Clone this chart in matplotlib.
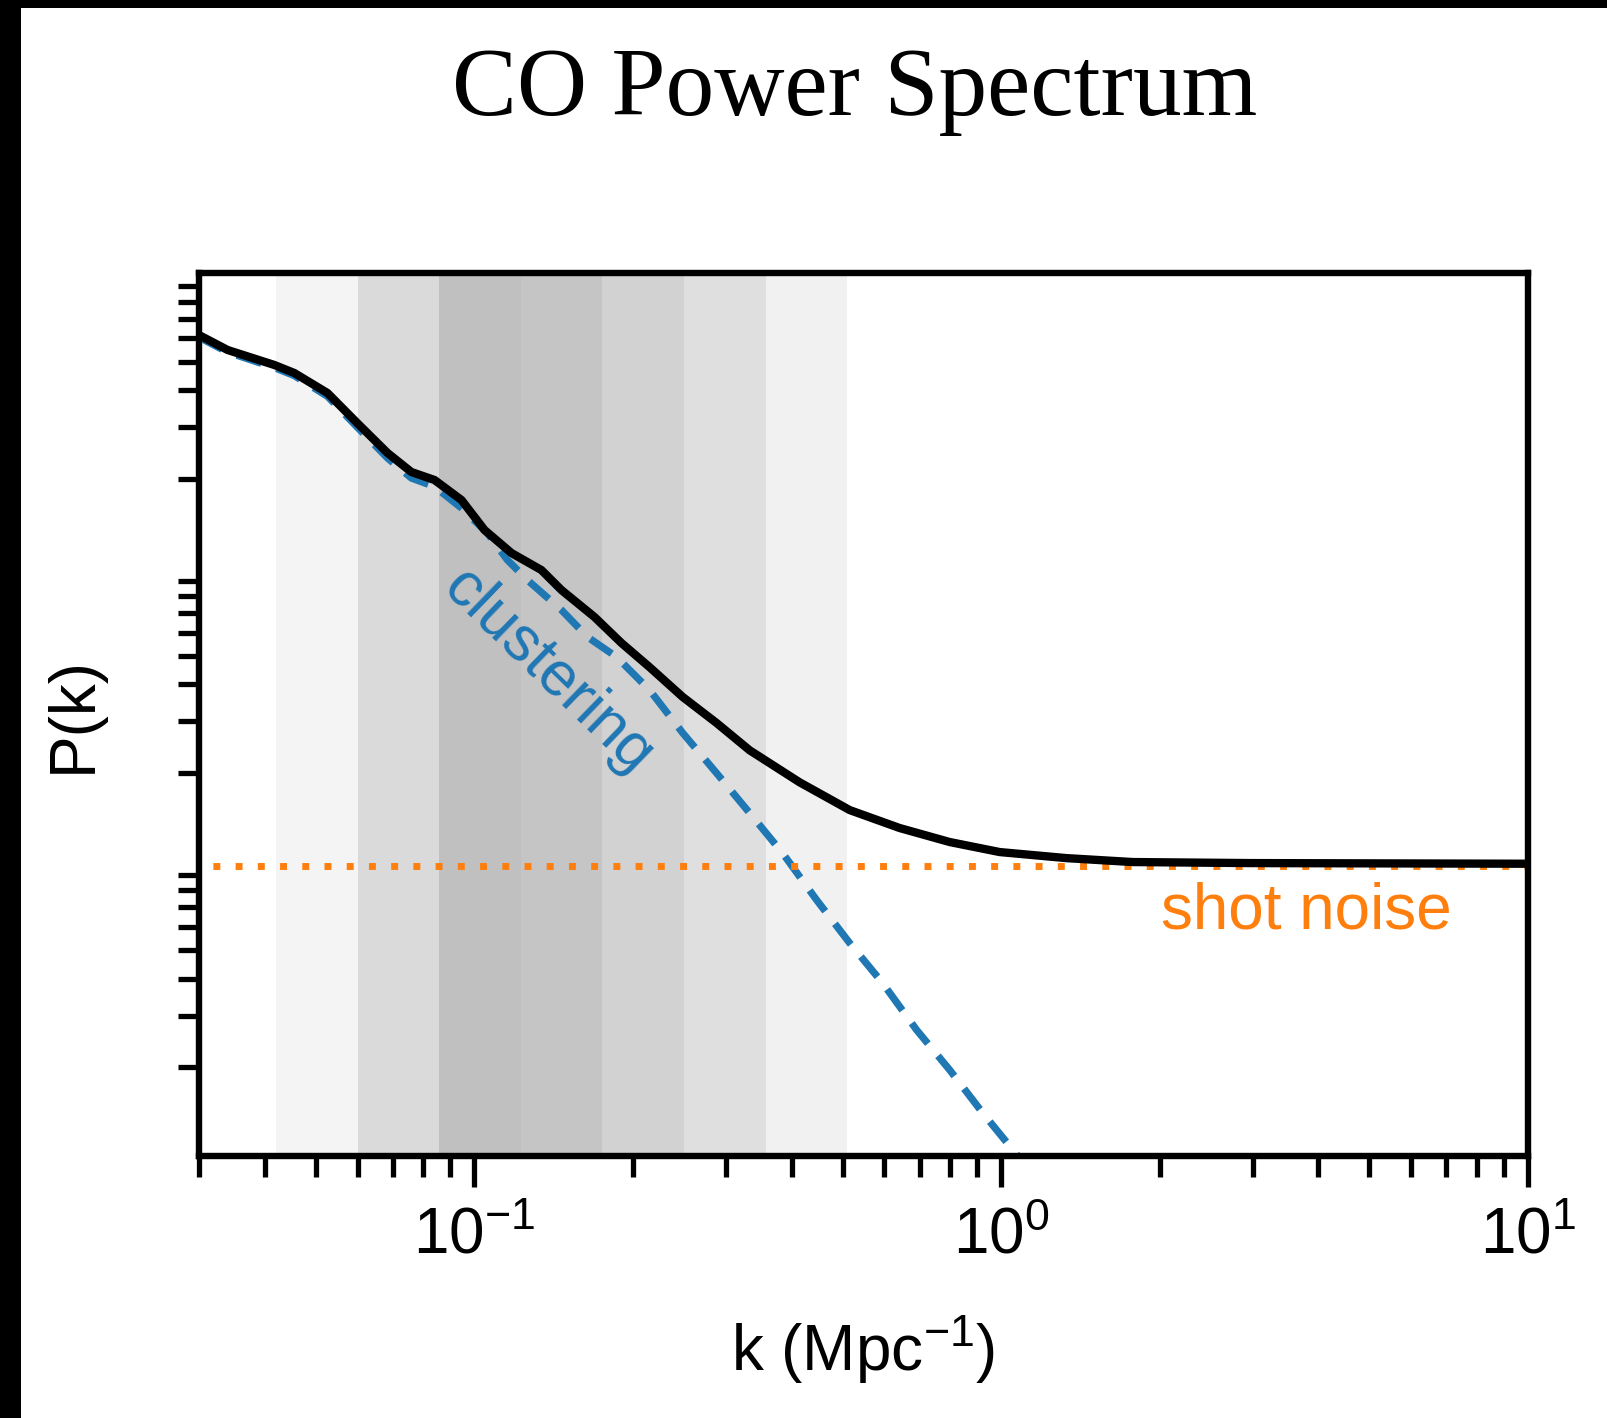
import matplotlib
matplotlib.use("Agg")
import matplotlib.pyplot as plt
from matplotlib.patches import Rectangle
from matplotlib.ticker import LogLocator
import numpy as np

plt.rcParams['font.family'] = ['Liberation Sans', 'DejaVu Sans']
plt.rcParams['mathtext.fontset'] = 'custom'
plt.rcParams['mathtext.rm'] = 'Liberation Sans'
plt.rcParams['mathtext.it'] = 'Liberation Sans:italic'

# total power spectrum (clustering + shot noise)
k_total = [0.0300, 0.0340, 0.0417, 0.0455, 0.0526, 0.0599, 0.0684, 0.0759,
           0.0840, 0.0945, 0.1045, 0.1176, 0.1340, 0.1463, 0.1690, 0.1902,
           0.2150, 0.2484, 0.2881, 0.3330, 0.4144, 0.5157, 0.6416, 0.7984,
           0.9936, 1.331, 1.777, 2.965, 10.0]
p_total = [6155, 5475, 4870, 4574, 3911, 3093, 2446, 2108,
           1980, 1693, 1339, 1118, 979, 837, 678, 553,
           458, 363, 296, 239, 186, 149.7, 130.1, 116.6,
           107.8, 102.8, 99.7, 98.9, 98.4]

# clustering term
k_clust = [0.0300, 0.0340, 0.0417, 0.0455, 0.0526, 0.0599, 0.0684, 0.0759,
           0.0840, 0.0945, 0.1058, 0.1155, 0.1261, 0.1463, 0.1639, 0.1861,
           0.2150, 0.2484, 0.2881, 0.3330, 0.3846, 0.4462, 0.5157, 0.5954,
           0.6909, 0.7984, 0.9224, 1.061, 1.15]
p_clust = [6050, 5380, 4770, 4480, 3810, 2995, 2350, 2010,
           1880, 1590, 1308, 1059, 905, 716, 580, 496,
           383, 274, 200, 146.3, 106.9, 74.1, 52.9, 38.7,
           26.8, 19.6, 14.0, 10.3, 8.6]

shot_noise = 97.0

# shaded k ranges and their grey levels
band_edges = [0.042, 0.060, 0.0858, 0.1225, 0.175, 0.25, 0.357, 0.510]
band_greys = ['#f4f4f4', '#dadada', '#c0c0c0', '#c5c5c5', '#d2d2d2', '#dfdfdf', '#f1f1f1']

fig = plt.figure(figsize=(16.08, 14.18), dpi=100)
fig.patch.set_facecolor('black')
fig.add_artist(Rectangle((21 / 1608, 0), 1, 1 - 8 / 1418, transform=fig.transFigure,
                         facecolor='white', edgecolor='none', zorder=-10))

ax = fig.add_axes([199 / 1608, 1 - 1156 / 1418, 1329 / 1608, 883 / 1418])
ax.set_xscale('log')
ax.set_yscale('log')

for lo, hi, c in zip(band_edges[:-1], band_edges[1:], band_greys):
    ax.axvspan(lo, hi, facecolor=c, edgecolor='none', zorder=0)

ax.plot(k_total, p_total, color='black', lw=6, zorder=3, solid_joinstyle='round')
ax.plot(k_clust, p_clust, color='#1f77b4', lw=5.2, linestyle=(0, (3.6, 2.2)), zorder=2)
ax.plot([0.03, 10], [shot_noise, shot_noise], color='#ff7f0e', lw=5,
        linestyle=(1.2, (1, 2.2)), zorder=2)

ax.text(0.1382, 441, 'clustering', color='#1f77b4', fontsize=45,
        rotation=-44, rotation_mode='anchor', ha='center', va='center')
ax.text(3.80, 59.5, 'shot noise', color='#ff7f0e', fontsize=46,
        ha='center', va='baseline')

ax.set_xlim(0.03, 10)
ax.set_ylim(10, 1e4)
ax.set_yticks([])
ax.yaxis.set_minor_locator(LogLocator(base=10, subs=np.arange(2, 10)))

for s in ax.spines.values():
    s.set_linewidth(4.6)
ax.tick_params(which='both', direction='out', width=3.8, top=False, right=False)
ax.tick_params(which='major', length=22, labelsize=46, pad=14)
ax.tick_params(which='minor', length=15)

ax.set_xlabel('k (Mpc$^{-1}$)', fontsize=46, labelpad=34)
ax.set_ylabel('P(k)', fontsize=46, labelpad=50)

fig.text(855 / 1608, 1 - 115 / 1418, 'CO Power Spectrum', family='Liberation Serif',
         fontsize=70, ha='center', va='baseline')

fig.savefig('out.png', dpi=100, facecolor=fig.get_facecolor())
